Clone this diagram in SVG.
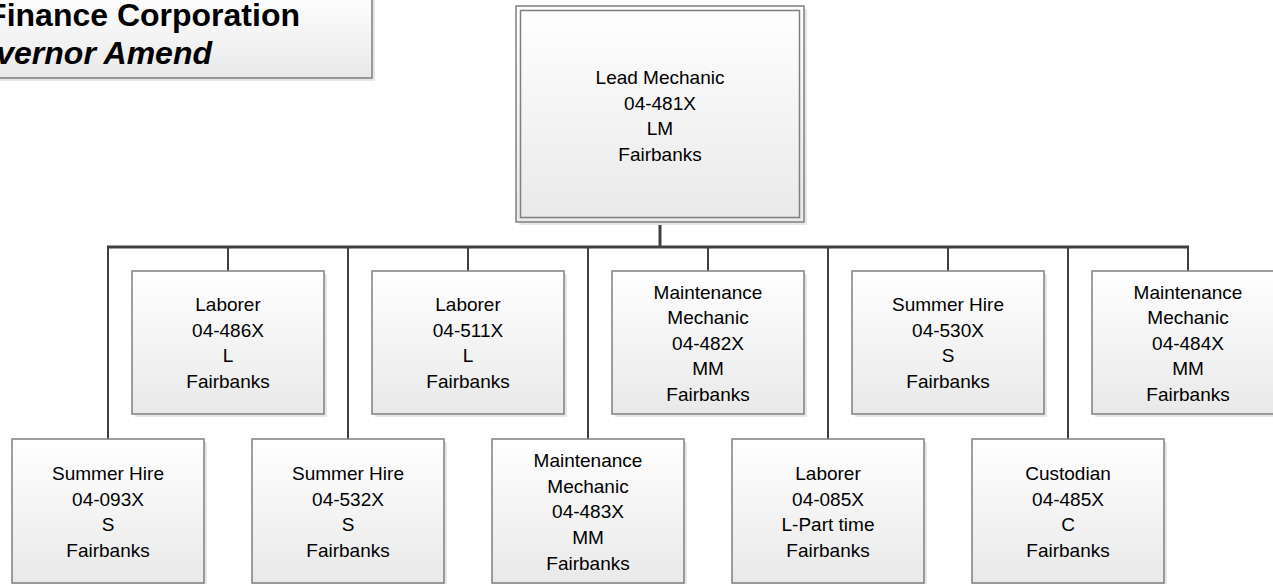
<svg xmlns="http://www.w3.org/2000/svg" width="1273" height="584" viewBox="0 0 1273 584">
<defs>
<linearGradient id="g" x1="0" y1="0" x2="0" y2="1">
<stop offset="0" stop-color="#ffffff"/>
<stop offset="1" stop-color="#e9e9e9"/>
</linearGradient>
</defs>
<style>
.box{fill:url(#g);stroke:#7f7f7f;stroke-width:1.5}
.sh{fill:#e6e6e6}
.t{font-family:"Liberation Sans",Arial,sans-serif;font-size:19px;fill:#000;text-anchor:middle}
.c{stroke:#404040;fill:none}
.h{font-family:"Liberation Sans",Arial,sans-serif;font-size:32px;font-weight:bold;text-anchor:end}
</style>
<rect width="1273" height="584" fill="#fff"/>
<g id="title">
<rect class="sh" x="-5" y="-5" width="380" height="86"/>
<rect class="box" x="-10" y="-10" width="382" height="88"/>
<text class="h" x="300" y="26">Finance Corporation</text>
<text class="h" x="212" y="64" font-style="italic">vernor Amend</text>
</g>
<g id="connectors">
<path class="c" stroke-width="3" d="M660 222V247M107 247H1189"/>
<path class="c" stroke-width="2" d="M108 247V439M348 247V439M588 247V439M828 247V439M1068 247V439M228 247V271M468 247V271M708 247V271M948 247V271M1188 247V271"/>
</g>
<g id="lead">
<rect class="sh" x="519" y="9" width="288" height="216"/>
<rect class="box" x="516" y="6" width="288" height="216"/>
<rect x="520.5" y="10.5" width="279" height="207" fill="none" stroke="#7f7f7f" stroke-width="1.5"/>
<text class="t"><tspan x="660" y="84">Lead Mechanic</tspan><tspan x="660" y="110">04-481X</tspan><tspan x="660" y="135">LM</tspan><tspan x="660" y="161">Fairbanks</tspan></text>
</g>
<g id="n486">
<rect class="sh" x="135" y="274" width="192" height="143"/>
<rect class="box" x="132" y="271" width="192" height="143"/>
<text class="t"><tspan x="228" y="311">Laborer</tspan><tspan x="228" y="337">04-486X</tspan><tspan x="228" y="362">L</tspan><tspan x="228" y="388">Fairbanks</tspan></text>
</g>
<g id="n511">
<rect class="sh" x="375" y="274" width="192" height="143"/>
<rect class="box" x="372" y="271" width="192" height="143"/>
<text class="t"><tspan x="468" y="311">Laborer</tspan><tspan x="468" y="337">04-511X</tspan><tspan x="468" y="362">L</tspan><tspan x="468" y="388">Fairbanks</tspan></text>
</g>
<g id="n482">
<rect class="sh" x="615" y="274" width="192" height="143"/>
<rect class="box" x="612" y="271" width="192" height="143"/>
<text class="t"><tspan x="708" y="299">Maintenance</tspan><tspan x="708" y="324">Mechanic</tspan><tspan x="708" y="350">04-482X</tspan><tspan x="708" y="375">MM</tspan><tspan x="708" y="401">Fairbanks</tspan></text>
</g>
<g id="n530">
<rect class="sh" x="855" y="274" width="192" height="143"/>
<rect class="box" x="852" y="271" width="192" height="143"/>
<text class="t"><tspan x="948" y="311">Summer Hire</tspan><tspan x="948" y="337">04-530X</tspan><tspan x="948" y="362">S</tspan><tspan x="948" y="388">Fairbanks</tspan></text>
</g>
<g id="n484">
<rect class="sh" x="1095" y="274" width="192" height="143"/>
<rect class="box" x="1092" y="271" width="192" height="143"/>
<text class="t"><tspan x="1188" y="299">Maintenance</tspan><tspan x="1188" y="324">Mechanic</tspan><tspan x="1188" y="350">04-484X</tspan><tspan x="1188" y="375">MM</tspan><tspan x="1188" y="401">Fairbanks</tspan></text>
</g>
<g id="n093">
<rect class="sh" x="15" y="442" width="192" height="144"/>
<rect class="box" x="12" y="439" width="192" height="144"/>
<text class="t"><tspan x="108" y="480">Summer Hire</tspan><tspan x="108" y="506">04-093X</tspan><tspan x="108" y="531">S</tspan><tspan x="108" y="557">Fairbanks</tspan></text>
</g>
<g id="n532">
<rect class="sh" x="255" y="442" width="192" height="144"/>
<rect class="box" x="252" y="439" width="192" height="144"/>
<text class="t"><tspan x="348" y="480">Summer Hire</tspan><tspan x="348" y="506">04-532X</tspan><tspan x="348" y="531">S</tspan><tspan x="348" y="557">Fairbanks</tspan></text>
</g>
<g id="n483">
<rect class="sh" x="495" y="442" width="192" height="144"/>
<rect class="box" x="492" y="439" width="192" height="144"/>
<text class="t"><tspan x="588" y="467">Maintenance</tspan><tspan x="588" y="493">Mechanic</tspan><tspan x="588" y="518">04-483X</tspan><tspan x="588" y="544">MM</tspan><tspan x="588" y="570">Fairbanks</tspan></text>
</g>
<g id="n085">
<rect class="sh" x="735" y="442" width="192" height="144"/>
<rect class="box" x="732" y="439" width="192" height="144"/>
<text class="t"><tspan x="828" y="480">Laborer</tspan><tspan x="828" y="506">04-085X</tspan><tspan x="828" y="531">L-Part time</tspan><tspan x="828" y="557">Fairbanks</tspan></text>
</g>
<g id="n485">
<rect class="sh" x="975" y="442" width="192" height="144"/>
<rect class="box" x="972" y="439" width="192" height="144"/>
<text class="t"><tspan x="1068" y="480">Custodian</tspan><tspan x="1068" y="506">04-485X</tspan><tspan x="1068" y="531">C</tspan><tspan x="1068" y="557">Fairbanks</tspan></text>
</g>
</svg>
